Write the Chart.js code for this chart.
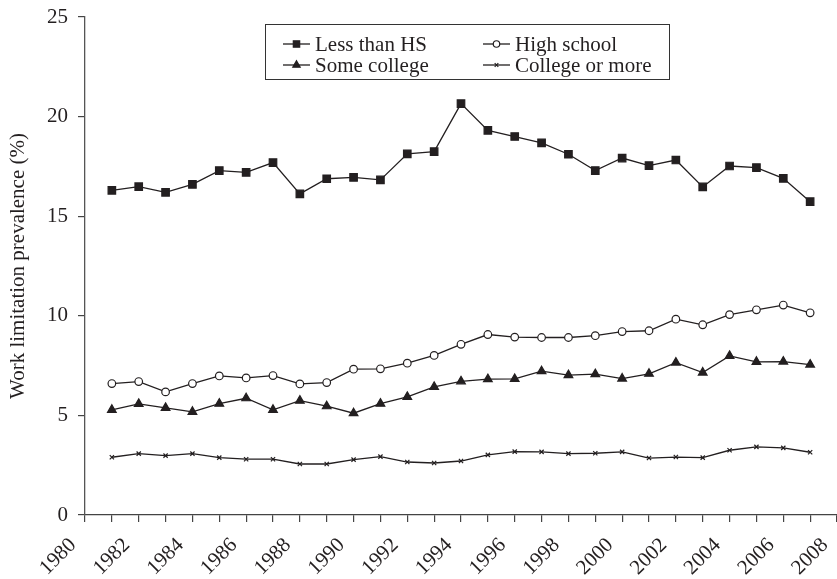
<!DOCTYPE html>
<html>
<head>
<meta charset="utf-8">
<script src="https://cdn.jsdelivr.net/npm/chart.js@4.4.0/dist/chart.umd.min.js"></script>
<style>
  body { margin: 0; background: #fff; }
  #grafico { display: block; }
</style>
</head>
<body>
<canvas id="grafico" width="837" height="579"></canvas>
<script>
// anos dos pontos (um ponto por ano)
const anos = [1981, 1982, 1983, 1984, 1985, 1986, 1987, 1988, 1989, 1990, 1991, 1992, 1993, 1994,
              1995, 1996, 1997, 1998, 1999, 2000, 2001, 2002, 2003, 2004, 2005, 2006, 2007];

// rótulos do eixo x (só anos pares)
const rotulosX = ['1980', '1982', '1984', '1986', '1988', '1990', '1992', '1994',
                  '1996', '1998', '2000', '2002', '2004', '2006', '2008'];
const ticksY = [0, 5, 10, 15, 20, 25];

const menosQueHS = [16.30, 16.48, 16.20, 16.60, 17.29, 17.20, 17.69, 16.12, 16.88, 16.95, 16.82, 18.13, 18.24, 20.65,
                    19.31, 19.00, 18.68, 18.11, 17.29, 17.92, 17.54, 17.82, 16.47, 17.52, 17.44, 16.90, 15.73];
const ensinoMedio = [6.60, 6.70, 6.18, 6.60, 6.98, 6.88, 7.00, 6.58, 6.65, 7.32, 7.34, 7.62, 8.01, 8.57,
                     9.06, 8.93, 8.91, 8.91, 9.00, 9.21, 9.25, 9.83, 9.55, 10.06, 10.30, 10.54, 10.15];
const algumaFaculdade = [5.28, 5.58, 5.38, 5.18, 5.59, 5.86, 5.28, 5.74, 5.46, 5.11, 5.59, 5.93, 6.43, 6.71,
                         6.82, 6.83, 7.22, 7.02, 7.07, 6.85, 7.09, 7.65, 7.15, 7.99, 7.69, 7.70, 7.55];
const faculdadeOuMais = [2.90, 3.08, 2.98, 3.08, 2.88, 2.80, 2.80, 2.56, 2.56, 2.78, 2.93, 2.66, 2.61, 2.71,
                         3.02, 3.18, 3.17, 3.08, 3.10, 3.17, 2.86, 2.91, 2.88, 3.25, 3.42, 3.37, 3.15];

const corEscura = '#231f20';
const fonte = 'Liberation Serif, Times New Roman, serif';

function serie(label, dados, estilo, raio, fundo) {
    return {
        label: label,
        data: dados,
        borderColor: corEscura,
        borderWidth: 1.3,
        pointStyle: estilo,
        pointRadius: raio,
        pointHoverRadius: raio,
        pointBackgroundColor: fundo,
        pointBorderColor: corEscura,
        pointBorderWidth: 1.2,
        tension: 0
    };
}

// legenda com caixa, desenhada à mão (linha + marcador)
const legendaCaixa = {
    id: 'legendaCaixa',
    afterDraw(chart) {
        const ctx = chart.ctx;
        const area = chart.chartArea;
        const esq = area.left + 180, topo = area.top + 7;
        ctx.save();
        ctx.strokeStyle = '#333';
        ctx.lineWidth = 1;
        ctx.strokeRect(esq + 0.5, topo + 0.5, 404, 55);
        ctx.font = '21px ' + fonte;
        ctx.textBaseline = 'middle';
        chart.data.datasets.forEach((ds, i) => {
            const col = i % 2;
            const lin = Math.floor(i / 2);
            const x0 = esq + 18 + col * 200;
            const y = topo + 20 + lin * 21;
            ctx.strokeStyle = corEscura;
            ctx.lineWidth = 1.3;
            ctx.beginPath();
            ctx.moveTo(x0, y);
            ctx.lineTo(x0 + 27, y);
            ctx.stroke();
            ctx.fillStyle = ds.pointBackgroundColor;
            ctx.strokeStyle = corEscura;
            ctx.lineWidth = ds.pointBorderWidth;
            Chart.helpers.drawPoint(ctx, {
                pointStyle: ds.pointStyle,
                radius: ds.pointRadius * 0.85,
                rotation: 0,
                borderWidth: ds.pointBorderWidth
            }, x0 + 13.5, y);
            ctx.fillStyle = corEscura;
            ctx.textAlign = 'left';
            ctx.fillText(ds.label, x0 + 32, y + 1);
        });
        ctx.restore();
    }
};

const ctx = document.getElementById('grafico').getContext('2d');
const grafico = new Chart(ctx, {
    type: 'line',
    data: {
        labels: anos,
        datasets: [
            serie('Less than HS', menosQueHS, 'rect', 5.3, corEscura),
            serie('High school', ensinoMedio, 'circle', 3.8, '#ffffff'),
            serie('Some college', algumaFaculdade, 'triangle', 5, corEscura),
            serie('College or more', faculdadeOuMais, 'crossRot', 3, corEscura)
        ]
    },
    options: {
        responsive: false,
        animation: false,
        layout: { autoPadding: false, padding: { top: 17, right: 0, bottom: 0, left: 0 } },
        plugins: {
            legend: { display: false },
            tooltip: { enabled: false }
        },
        scales: {
            x: {
                type: 'linear',
                min: 1980,
                max: 2008,
                grid: { drawOnChartArea: false, tickLength: 7, color: '#444', lineWidth: 1.2 },
                border: { color: '#444', width: 1.3 },
                ticks: {
                    stepSize: 1,
                    autoSkip: false,
                    minRotation: 45,
                    maxRotation: 45,
                    padding: 11,
                    labelOffset: -12,
                    color: corEscura,
                    font: { family: fonte, size: 21 },
                    callback: (valor) => rotulosX.includes(String(valor)) ? String(valor) : ''
                },
                afterFit: (escala) => { escala.height = 64; escala.paddingRight = 0; }
            },
            y: {
                min: 0,
                max: 25,
                afterBuildTicks: (escala) => { escala.ticks = ticksY.map(v => ({ value: v })); },
                grid: { drawOnChartArea: false, tickLength: 7, color: '#444', lineWidth: 1.2 },
                border: { color: '#555', width: 1.3 },
                ticks: {
                    padding: 10,
                    color: corEscura,
                    font: { family: fonte, size: 21 }
                },
                title: {
                    display: true,
                    text: 'Work limitation prevalence (%)',
                    color: corEscura,
                    font: { family: fonte, size: 21 },
                    padding: { top: 6, bottom: 0 }
                },
                afterFit: (escala) => { escala.width = 85; escala.paddingTop = 0; }
            }
        }
    },
    plugins: [legendaCaixa]
});
</script>
</body>
</html>
